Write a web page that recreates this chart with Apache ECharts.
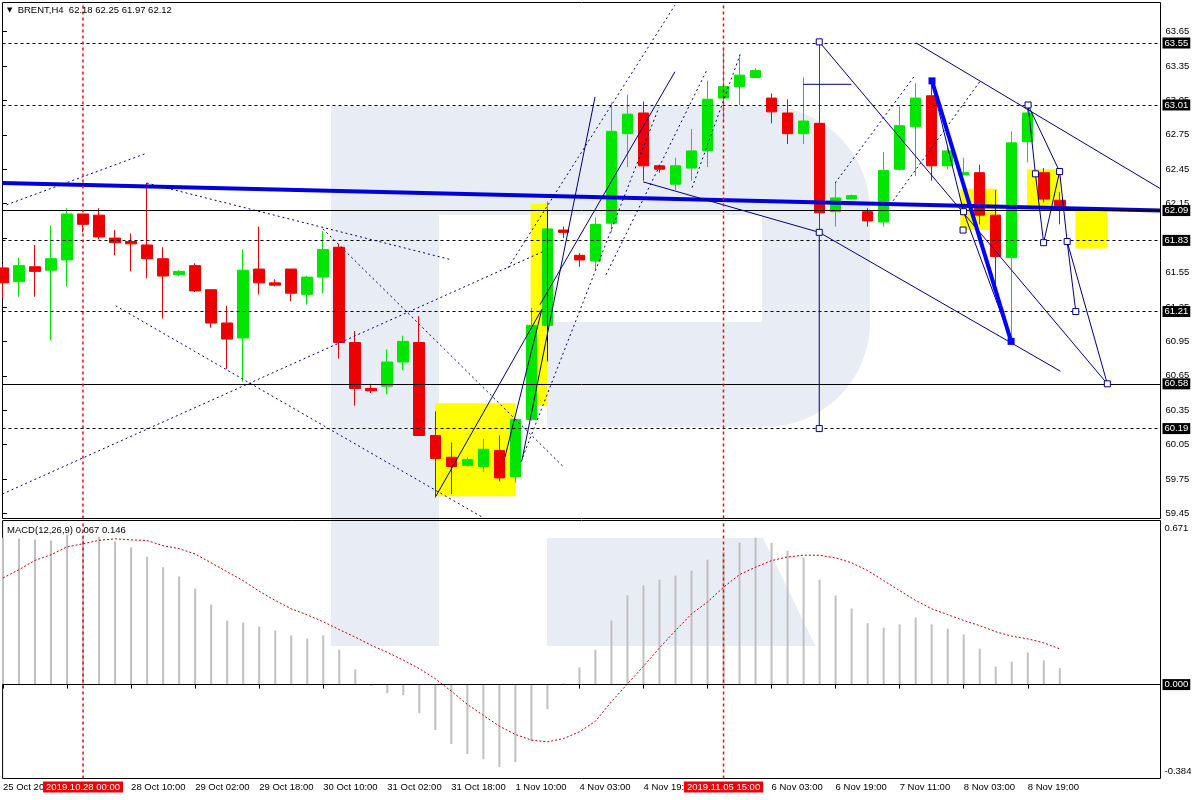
<!DOCTYPE html>
<html><head><meta charset="utf-8">
<script src="https://cdn.jsdelivr.net/npm/echarts@6/dist/echarts.min.js"></script>
<style>html,body{margin:0;padding:0;background:#fff}#c{width:1200px;height:800px}</style>
</head><body><div id="c"></div>
<script>
// ---------- DATA (H4 bars, index 0 = 25 Oct 2019) ----------
const opens  = [61.59,61.47,61.60,61.57,61.66,62.06,62.05,61.85,61.82,61.79,
                61.67,61.53,61.61,61.40,61.11,60.98,61.58,61.46,61.58,61.36,
                61.51,61.77,60.94,60.54,60.56,60.77,60.94,60.13,59.94,59.87,
                59.86,60.00,59.77,60.27,61.09,61.92,61.70,61.65,61.98,62.76,
                62.94,62.48,62.32,62.46,62.61,63.07,63.17,63.25,63.07,62.94,
                62.76,62.85,62.08,62.19,62.08,61.99,62.45,62.82,63.09,62.48,
                62.40,62.42,62.05,61.68,62.69,62.42,62.18];
const closes = [61.46,61.61,61.56,61.67,62.06,61.97,61.86,61.81,61.80,61.67,
                61.52,61.56,61.39,61.11,60.97,61.57,61.46,61.44,61.37,61.51,
                61.75,60.94,60.54,60.52,60.77,60.95,60.13,59.93,59.86,59.92,
                60.01,59.76,60.27,61.09,61.93,61.90,61.66,61.97,62.78,62.93,
                62.48,62.45,62.48,62.61,63.06,63.17,63.27,63.31,62.95,62.76,
                62.87,62.07,62.20,62.22,62.00,62.44,62.83,63.07,62.48,62.61,
                62.42,62.05,61.69,62.68,62.94,62.19,62.12];
const lows   = [61.33,61.34,61.34,60.96,61.43,61.90,61.84,61.70,61.56,61.50,
                61.15,61.52,61.38,61.07,60.71,60.60,61.36,61.43,61.30,61.27,
                61.37,60.80,60.39,60.50,60.49,60.70,60.13,59.59,59.62,59.86,
                59.81,59.73,59.72,60.26,60.77,61.85,61.60,61.58,61.90,62.47,
                62.35,62.42,62.27,62.35,62.47,62.86,63.01,63.25,62.85,62.67,
                62.67,61.90,61.95,62.19,61.95,61.95,62.44,62.39,62.35,62.45,
                62.40,61.97,61.40,60.95,62.51,62.16,61.97];
const highs  = [61.62,61.68,61.79,61.96,62.11,62.06,62.11,61.92,61.89,62.33,
                61.77,61.57,61.63,61.40,61.26,61.75,61.95,61.49,61.58,61.52,
                61.91,61.80,61.04,60.58,60.88,61.00,61.17,60.34,60.07,59.94,
                60.10,60.13,60.27,61.24,62.17,61.95,61.72,62.03,63.03,63.10,
                63.04,62.49,62.55,62.80,63.22,63.51,63.45,63.33,63.11,63.06,
                63.25,63.56,62.33,62.23,62.11,62.60,63.00,63.20,63.22,62.64,
                62.55,62.49,62.27,62.78,63.01,62.46,62.25];
const macdMain = [0.600,0.597,0.593,0.589,0.613,0.605,0.605,0.586,0.561,0.523,
                  0.480,0.442,0.393,0.327,0.262,0.254,0.237,0.221,0.201,0.188,
                  0.201,0.143,0.062,-0.005,-0.035,-0.043,-0.117,-0.186,-0.243,-0.284,
                  -0.305,-0.337,-0.317,-0.231,-0.100,0.005,0.070,0.143,0.262,0.365,
                  0.406,0.429,0.446,0.466,0.511,0.543,0.580,0.601,0.580,0.548,
                  0.519,0.429,0.364,0.311,0.251,0.233,0.246,0.274,0.246,0.229,
                  0.205,0.147,0.074,0.094,0.131,0.099,0.067];
const macdSignal = [0.436,0.470,0.508,0.531,0.563,0.576,0.590,0.596,0.592,0.589,
                    0.568,0.556,0.534,0.498,0.461,0.425,0.382,0.344,0.310,0.285,
                    0.257,0.225,0.194,0.161,0.132,0.100,0.065,0.024,-0.027,-0.081,
                    -0.126,-0.170,-0.204,-0.227,-0.234,-0.221,-0.193,-0.150,-0.070,0.003,
                    0.075,0.150,0.221,0.289,0.338,0.398,0.450,0.480,0.507,0.522,
                    0.529,0.529,0.518,0.498,0.466,0.425,0.384,0.344,0.310,0.286,
                    0.262,0.241,0.216,0.198,0.187,0.171,0.146];

// time axis labels (bar index -> text)
const xTickPos   = [0,4,8,12,16,20,24,28,32,36,40,44,48,52,56,60,64];
const xLabelPos  = [0,8,12,16,20,24,28,32,36,40,48,52,56,60,64];
const xLabelText = ['25 Oct 2019','28 Oct 10:00','29 Oct 02:00','29 Oct 18:00','30 Oct 10:00',
                    '31 Oct 02:00','31 Oct 18:00','1 Nov 10:00','4 Nov 03:00','4 Nov 19:00',
                    '6 Nov 03:00','6 Nov 19:00','7 Nov 11:00','8 Nov 03:00','8 Nov 19:00'];
// price scale labels
const priceTicks = [63.65,63.35,63.05,62.75,62.45,62.15,61.85,61.55,61.25,60.95,60.65,60.35,60.05,59.75,59.45];
const levelsDashed = [63.55,63.01,61.83,61.21,60.19];
const levelsSolid  = [62.09,60.58];
const vLinePos  = [5,45];
const vLineText = ['2019.10.28 00:00','2019.11.05 15:00'];
const macdScale = [0.671,-0.384];

// drawings in (bar index, price) space
const dottedLines = [
  [[-0.03,59.62],[33.85,61.74]],
  [[0.23,62.14],[8.98,62.59]],
  [[8.98,62.33],[28.04,61.66]],
  [[7.04,61.26],[29.91,59.42]],
  [[19.98,61.93],[34.98,59.86]],
  [[31.54,61.59],[41.97,63.88]],
  [[32.35,59.90],[40.97,62.99]],
  [[37.66,61.53],[43.98,63.32]],
  [[43.04,62.29],[46.04,63.45]],
  [[51.97,62.33],[56.97,63.27]],
  [[55.41,62.14],[61.04,63.22]]
];
const solidLines = [
  [[27.04,59.60],[33.66,61.23]],
  [[31.35,59.94],[33.66,61.23]],
  [[32.41,59.91],[36.98,63.08]],
  [[33.54,61.27],[41.97,63.30]],
  [[34.01,62.10],[34.01,60.78]],
  [[39.98,62.34],[50.98,61.90]],
  [[50.98,61.90],[66.04,60.69]],
  [[50.98,61.90],[50.98,60.19]],
  [[50.98,63.56],[68.97,60.58]],
  [[57.04,63.55],[72.29,62.28]],
  [[49.97,63.19],[52.98,63.19]],
  [[58.02,63.20],[59.99,62.08]],
  [[59.99,62.08],[62.97,60.95]],
  [[64.02,63.01],[64.48,62.41],[64.99,61.81],[65.99,62.43],[66.46,61.82],[67.0,61.21]],
  [[64.02,63.01],[65.99,62.43]],
  [[66.46,61.82],[68.97,60.58]]
];
const maLine   = [[-0.03,62.33],[72.29,62.09]];
const waveLine = [[58.02,63.22],[62.96,60.95]];
const hollowMarks = [[50.98,63.56],[50.98,61.90],[50.98,60.19],[64.02,63.01],[64.48,62.41],
                     [64.99,61.81],[65.99,62.43],[66.46,61.82],[67.0,61.21],[68.97,60.58],
                     [59.99,62.08],[59.96,61.92]];
const filledMarks = [[58.02,63.22],[62.96,60.95]];
const yellowBoxes = [[27,60.41,32,59.60],[32.96,62.15,34.0,60.39],[59.79,62.28,62.12,61.92],
                     [63.96,62.45,66.04,62.13],[66.98,62.09,68.96,61.76]];

// ---------- CHART ----------
const FONT = 'Liberation Sans';
const FS = 9.5;
const X_MIN = -0.025, X_MAX = 72.29;
const Y_MIN = 59.4065, Y_MAX = 63.903;
const M_MIN = -0.384, M_MAX = 0.671;
const NAVY = '#000080';
const VRED = '#e01010';
const WM = '#e8ecf4';

const idx = opens.map((_, i) => i);
const candleData = idx.map(i => [i, opens[i], closes[i], lows[i], highs[i]]);
const histData = idx.map(i => [i, macdMain[i]]);
const sigData = idx.map(i => [i, macdSignal[i]]);
const vMain = vLinePos.map(v => ({coords:[[v, Y_MIN], [v, Y_MAX]]}));
const vMacd = vLinePos.map(v => ({coords:[[v, M_MIN], [v, M_MAX]]}));

const levelLabel = {show:true, position:'end', distance:2, formatter:p => Number(p.value).toFixed(2),
  backgroundColor:'#000', color:'#fff', padding:[1,2,0,2], fontSize:FS, fontFamily:FONT};

const chart = echarts.init(document.getElementById('c'), null, {renderer:'canvas'});
chart.setOption({
  animation:false,
  backgroundColor:'#fff',
  textStyle:{fontFamily:FONT},
  title:[
    {text:'{t|▼}  BRENT,H4  62.18 62.25 61.97 62.12', left:7, top:5, padding:0,
     textStyle:{fontSize:FS, fontWeight:'normal', color:'#000', fontFamily:FONT,
       rich:{t:{fontSize:7, fontFamily:'DejaVu Sans', color:'#000'}}}},
    {text:'MACD(12,26,9) 0.067 0.146', left:7, top:525, padding:0,
     textStyle:{fontSize:FS, fontWeight:'normal', color:'#000', fontFamily:FONT}}
  ],
  grid:[
    {left:2.5, width:1158, top:2.5, height:516, show:true, borderColor:'#000', borderWidth:1, backgroundColor:'transparent'},
    {left:2.5, width:1158, top:520.5, height:258, show:true, borderColor:'#000', borderWidth:1, backgroundColor:'transparent'}
  ],
  xAxis:[
    {type:'value', gridIndex:0, min:X_MIN, max:X_MAX, axisLine:{show:false}, axisTick:{show:false},
     axisLabel:{show:false}, splitLine:{show:false}},
    {type:'value', gridIndex:1, min:X_MIN, max:X_MAX, axisLine:{show:false},
     axisTick:{show:true, length:4, customValues:xTickPos, lineStyle:{color:'#000'}},
     axisLabel:{show:true, customValues:xLabelPos, align:'left', margin:4, fontSize:FS, color:'#000', fontFamily:FONT,
       formatter:v => { const j = xLabelPos.indexOf(Math.round(v)); return j >= 0 ? xLabelText[j] : ''; }},
     splitLine:{show:false}}
  ],
  yAxis:[
    {type:'value', gridIndex:0, position:'right', min:Y_MIN, max:Y_MAX, axisLine:{show:false},
     axisTick:{show:true, length:4, customValues:priceTicks, lineStyle:{color:'#000'}},
     axisLabel:{show:true, customValues:priceTicks, margin:5, fontSize:FS, color:'#000', fontFamily:FONT,
       formatter:v => Number(v).toFixed(2)},
     splitLine:{show:false}},
    {type:'value', gridIndex:1, position:'right', min:M_MIN, max:M_MAX, axisLine:{show:false},
     axisTick:{show:false},
     axisLabel:{show:true, customValues:macdScale, margin:4, fontSize:FS, color:'#000', fontFamily:FONT,
       formatter:v => v > 0 ? '{t|' + Number(v).toFixed(3) + '}' : '{b|' + Number(v).toFixed(3) + '}',
       rich:{t:{padding:[16,0,0,0], fontSize:FS, fontFamily:FONT, color:'#000'},
             b:{padding:[0,0,14,0], fontSize:FS, fontFamily:FONT, color:'#000'}}},
     splitLine:{show:false}}
  ],
  graphic:[
    {type:'rect', silent:true, z:-10, shape:{x:331, y:106, width:108, height:540}, style:{fill:WM}},
    {type:'rect', silent:true, z:-10, shape:{x:439, y:106, width:431, height:321, r:[0,105,105,0]}, style:{fill:WM}},
    {type:'rect', silent:true, z:-9, shape:{x:439, y:215, width:323, height:107}, style:{fill:'#fff'}},
    {type:'rect', silent:true, z:-9, shape:{x:439, y:322, width:108, height:105}, style:{fill:'#fff'}},
    {type:'polygon', silent:true, z:-10, shape:{points:[[547,538],[763,538],[815.5,646],[547,646]]}, style:{fill:WM}}
  ],
  series:[
    {type:'custom', name:'boxes', xAxisIndex:0, yAxisIndex:0, z:1, silent:true,
     data:yellowBoxes, encode:{x:[0,2], y:[1,3]},
     renderItem:(params, api) => {
       const a = api.coord([api.value(0), api.value(1)]);
       const b = api.coord([api.value(2), api.value(3)]);
       return {type:'rect', shape:{x:Math.min(a[0],b[0]), y:Math.min(a[1],b[1]),
         width:Math.abs(b[0]-a[0]), height:Math.abs(b[1]-a[1])}, style:{fill:'#ffff00'}};
     }},
    {type:'candlestick', name:'BRENT', xAxisIndex:0, yAxisIndex:0, z:3, barWidth:11,
     data:candleData, encode:{x:0, y:[1,2,3,4]},
     itemStyle:{color:'#00e600', color0:'#ec0000', borderColor:'#00e600', borderColor0:'#ec0000',
       borderColorDoji:'#ec0000', borderWidth:1}},
    {type:'lines', name:'ma', coordinateSystem:'cartesian2d', xAxisIndex:0, yAxisIndex:0, z:4, silent:true,
     polyline:true, lineStyle:{color:'#0000dc', width:4, opacity:1},
     data:[{coords:maLine}]},
    {type:'lines', name:'dotted', coordinateSystem:'cartesian2d', xAxisIndex:0, yAxisIndex:0, z:5, silent:true,
     polyline:true, lineStyle:{color:NAVY, width:1, type:[2,3], opacity:1},
     data:dottedLines.map(c => ({coords:c}))},
    {type:'lines', name:'solid', coordinateSystem:'cartesian2d', xAxisIndex:0, yAxisIndex:0, z:5, silent:true,
     polyline:true, lineStyle:{color:NAVY, width:1, opacity:1},
     data:solidLines.map(c => ({coords:c})),
     markLine:{silent:true, symbol:'none', animation:false, lineStyle:{color:'#000', width:1},
       data:levelsDashed.map(v => ({yAxis:v, label:levelLabel, lineStyle:{color:'#000', type:[3,3], width:1}}))
         .concat(levelsSolid.map(v => ({yAxis:v, label:levelLabel, lineStyle:{color:'#000', type:'solid', width:1}})))}},
    {type:'lines', name:'wave', coordinateSystem:'cartesian2d', xAxisIndex:0, yAxisIndex:0, z:5, silent:true,
     polyline:true, lineStyle:{color:'#0000ff', width:4, opacity:1},
     data:[{coords:waveLine}]},
    {type:'lines', name:'vmain', coordinateSystem:'cartesian2d', xAxisIndex:0, yAxisIndex:0, z:6, silent:true,
     polyline:true, lineStyle:{color:VRED, width:1.5, type:[3,3], opacity:1}, data:vMain},
    {type:'scatter', name:'marks', xAxisIndex:0, yAxisIndex:0, z:6, silent:true, symbol:'rect', symbolSize:6,
     itemStyle:{color:'#fff', borderColor:NAVY, borderWidth:1, opacity:1}, data:hollowMarks},
    {type:'scatter', name:'marks2', xAxisIndex:0, yAxisIndex:0, z:6, silent:true, symbol:'rect', symbolSize:7,
     itemStyle:{color:'#0000ff', opacity:1}, data:filledMarks},
    {type:'bar', name:'MACD', xAxisIndex:1, yAxisIndex:1, z:2, barWidth:2, silent:true,
     itemStyle:{color:'#c0c0c0'}, data:histData,
     markLine:{silent:true, symbol:'none', animation:false, lineStyle:{color:'#000', type:'solid', width:1},
       data:[{yAxis:0, lineStyle:{color:'#000', type:'solid', width:1},
              label:{show:true, position:'end', distance:2, formatter:'0.000', backgroundColor:'#000', color:'#fff',
                     padding:[1,2,0,2], fontSize:FS, fontFamily:FONT}}]}},
    {type:'line', name:'Signal', xAxisIndex:1, yAxisIndex:1, z:3, silent:true, symbol:'none',
     lineStyle:{color:'#c00000', width:1, type:[2,2]}, data:sigData,
     markLine:{silent:true, symbol:'none', animation:false,
       lineStyle:{color:'rgba(0,0,0,0)', width:0},
       data:vLinePos.map((v, j) => ({xAxis:v, lineStyle:{color:'rgba(0,0,0,0)', width:0},
              label:{show:true, position:'start', distance:3, formatter:vLineText[j], backgroundColor:'#f00000', color:'#fff',
                     padding:[1,3,0,3], fontSize:FS, fontFamily:FONT, opacity:1}}))}},
    {type:'lines', name:'vmacd', coordinateSystem:'cartesian2d', xAxisIndex:1, yAxisIndex:1, z:6, silent:true,
     polyline:true, lineStyle:{color:VRED, width:1.5, type:[3,3], opacity:1}, data:vMacd}
  ]
});
</script>
</body></html>
